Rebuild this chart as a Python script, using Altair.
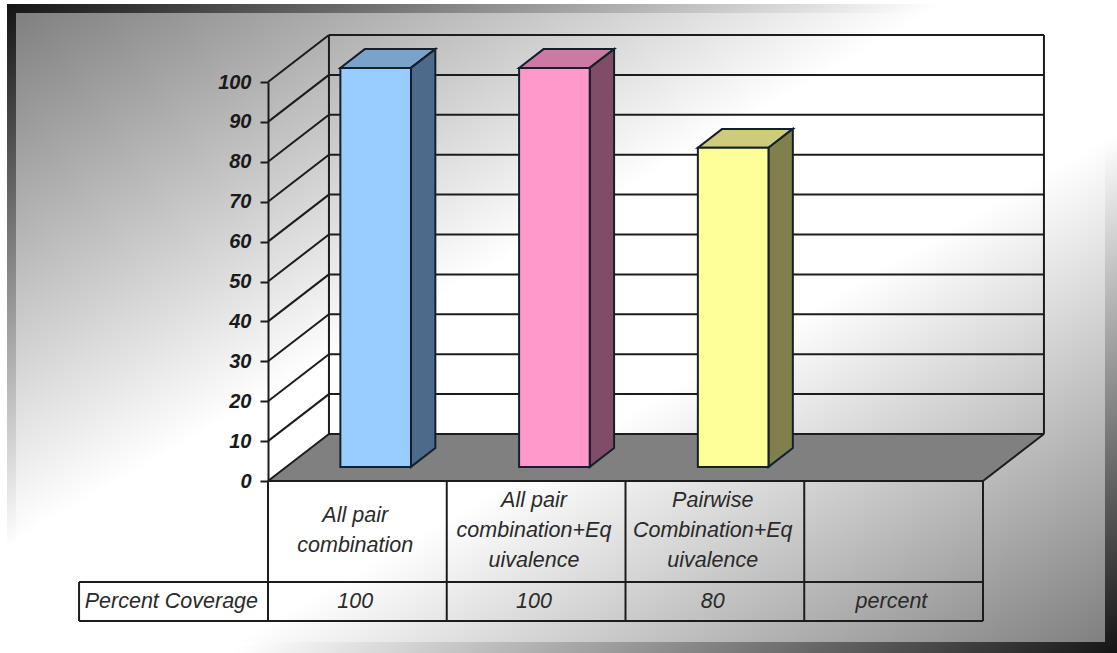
import altair as alt
import pandas as pd

# Chart content
categories = [
    ["All pair", "combination"],
    ["All pair", "combination+Eq", "uivalence"],
    ["Pairwise", "Combination+Eq", "uivalence"],
    [],
]
row_values = ["100", "100", "80", "percent"]
coverage = [100, 100, 80]
row_title = "Percent Coverage"
y_ticks = list(range(0, 110, 10))

front_colors = ["#99CCFF", "#FF99CC", "#FFFF99"]
side_colors = ["#4D6A8A", "#804D66", "#80804D"]
top_colors = ["#7AA3CC", "#CC7AA3", "#CCCC7A"]

# Oblique projection of the 3-D box, in axis units
DEPTH_X = 0.341
DEPTH_Y = 11.78
BAR_NEAR, BAR_FAR = 0.30, 0.70
BAR_WIDTH = 0.395
SLOTS = len(categories)
ROW_1_BOTTOM = -25.3
ROW_2_BOTTOM = -35.1
TITLE_LEFT = -1.057
LINE_STEP = 7.52
TEXT_NUDGE = -0.012

LINE = "#1c1c1c"
LINE_W = 2
FONT = "Liberation Sans"

x_scale = alt.Scale(domain=[0, 4], range=[268, 983])
y_scale = alt.Scale(domain=[0, 100], range=[481, 82])
y_axis = alt.Axis(
    values=y_ticks, title=None, offset=-268, zindex=1, grid=False,
    domainColor=LINE, domainWidth=LINE_W, tickColor=LINE, tickWidth=LINE_W,
    tickSize=8, labelPadding=9, labelColor="#1a1a1a", labelFont=FONT,
    labelFontSize=20, labelFontWeight="bold", labelFontStyle="italic",
)
X = alt.X("x:Q", scale=x_scale, axis=None)
Y = alt.Y("y:Q", scale=y_scale, axis=y_axis)
X2 = alt.X2("x2:Q")
Y2 = alt.Y2("y2:Q")


def band(dark, light):
    return alt.LinearGradient(
        gradient="linear", x1=0, y1=0, x2=1, y2=1,
        stops=[
            alt.GradientStop(offset=0, color=dark),
            alt.GradientStop(offset=0.42, color=light),
            alt.GradientStop(offset=0.6, color=light),
            alt.GradientStop(offset=1, color=dark),
        ],
    )


one_row = pd.DataFrame({"k": [0]})
outer = alt.Chart(one_row).mark_rect(fill=band("#141414", "#ffffff")).encode(
    x=alt.value(7), x2=alt.value(1117), y=alt.value(4), y2=alt.value(653)
)
inner = alt.Chart(one_row).mark_rect(fill=band("#808080", "#ffffff")).encode(
    x=alt.value(16), x2=alt.value(1105), y=alt.value(13), y2=alt.value(642)
)

# Floor of the box
floor = alt.Chart(pd.DataFrame({
    "x": [0, DEPTH_X], "x2": [SLOTS, SLOTS + DEPTH_X], "y": [0, DEPTH_Y]
})).mark_area(orient="horizontal", fill="#808080").encode(x=X, x2=X2, y=Y)

# Wall and table lines share one segment table
seg = []
for v in y_ticks:
    seg.append((DEPTH_X, SLOTS + DEPTH_X, v + DEPTH_Y, v + DEPTH_Y))
    seg.append((0, DEPTH_X, v, v + DEPTH_Y))
seg.append((DEPTH_X, DEPTH_X, DEPTH_Y, 100 + DEPTH_Y))
seg.append((SLOTS + DEPTH_X, SLOTS + DEPTH_X, DEPTH_Y, 100 + DEPTH_Y))
seg.append((SLOTS, SLOTS + DEPTH_X, 0, DEPTH_Y))
seg.append((0, SLOTS, 0, 0))
seg.append((TITLE_LEFT, SLOTS, ROW_1_BOTTOM, ROW_1_BOTTOM))
seg.append((TITLE_LEFT, SLOTS, ROW_2_BOTTOM, ROW_2_BOTTOM))
seg.append((TITLE_LEFT, TITLE_LEFT, ROW_1_BOTTOM, ROW_2_BOTTOM))
for i in range(SLOTS + 1):
    seg.append((i, i, 0, ROW_2_BOTTOM))
segments = pd.DataFrame(seg, columns=["x", "x2", "y", "y2"])
lines = alt.Chart(segments).mark_rule(color=LINE, strokeWidth=LINE_W).encode(
    x=X, x2=X2, y=Y, y2=Y2
)

# Bars, drawn through the same projection
bar_layers = []
for i, v in enumerate(coverage):
    left = i + 0.5 - BAR_WIDTH / 2
    right = i + 0.5 + BAR_WIDTH / 2
    near_x, far_x = BAR_NEAR * DEPTH_X, BAR_FAR * DEPTH_X
    near_y, far_y = BAR_NEAR * DEPTH_Y, BAR_FAR * DEPTH_Y
    edge = "#14202c"

    top = alt.Chart(pd.DataFrame({
        "x": [left + near_x, left + far_x],
        "x2": [right + near_x, right + far_x],
        "y": [v + near_y, v + far_y],
    })).mark_area(orient="horizontal", fill=top_colors[i], stroke=edge, strokeWidth=LINE_W).encode(
        x=X, x2=X2, y=Y
    )
    side = alt.Chart(pd.DataFrame({
        "x": [right + near_x, right + far_x],
        "y": [v + near_y, v + far_y],
        "y2": [near_y, far_y],
    })).mark_area(fill=side_colors[i], stroke=edge, strokeWidth=LINE_W).encode(
        x=X, y=Y, y2=Y2
    )
    front = alt.Chart(pd.DataFrame({
        "x": [left + near_x], "x2": [right + near_x],
        "y": [near_y], "y2": [v + near_y],
    })).mark_rect(fill=front_colors[i], stroke=edge, strokeWidth=LINE_W).encode(
        x=X, x2=X2, y=Y, y2=Y2
    )
    bar_layers += [top, side, front]

# Table text: each category line sits on its own row, centred in the upper cell
text_style = dict(font=FONT, fontSize=21.5, fontStyle="italic", color="#2a2a2a", baseline="middle", align="center")
cat_rows = []
for i, cat in enumerate(categories):
    for j, part in enumerate(cat):
        cat_rows.append({
            "x": i + 0.5 + TEXT_NUDGE,
            "y": ROW_1_BOTTOM / 2 + ((len(cat) - 1) / 2 - j) * LINE_STEP,
            "t": part,
        })
cat_text = alt.Chart(pd.DataFrame(cat_rows)).mark_text(**text_style).encode(x=X, y=Y, text="t:N")
row_text = alt.Chart(pd.DataFrame({
    "x": [i + 0.5 + TEXT_NUDGE for i in range(SLOTS)] + [TITLE_LEFT / 2 + TEXT_NUDGE],
    "y": [(ROW_1_BOTTOM + ROW_2_BOTTOM) / 2 - 0.25] * (SLOTS + 1),
    "t": row_values + [row_title],
})).mark_text(**text_style).encode(x=X, y=Y, text="t:N")

chart = alt.layer(
    outer, inner, floor, lines, *bar_layers, cat_text, row_text
).properties(
    width=1117, height=653, padding=0, autosize="none", background="white"
).configure_view(strokeWidth=0)

chart.save("out.html", embed_options={"renderer": "svg", "actions": False})
